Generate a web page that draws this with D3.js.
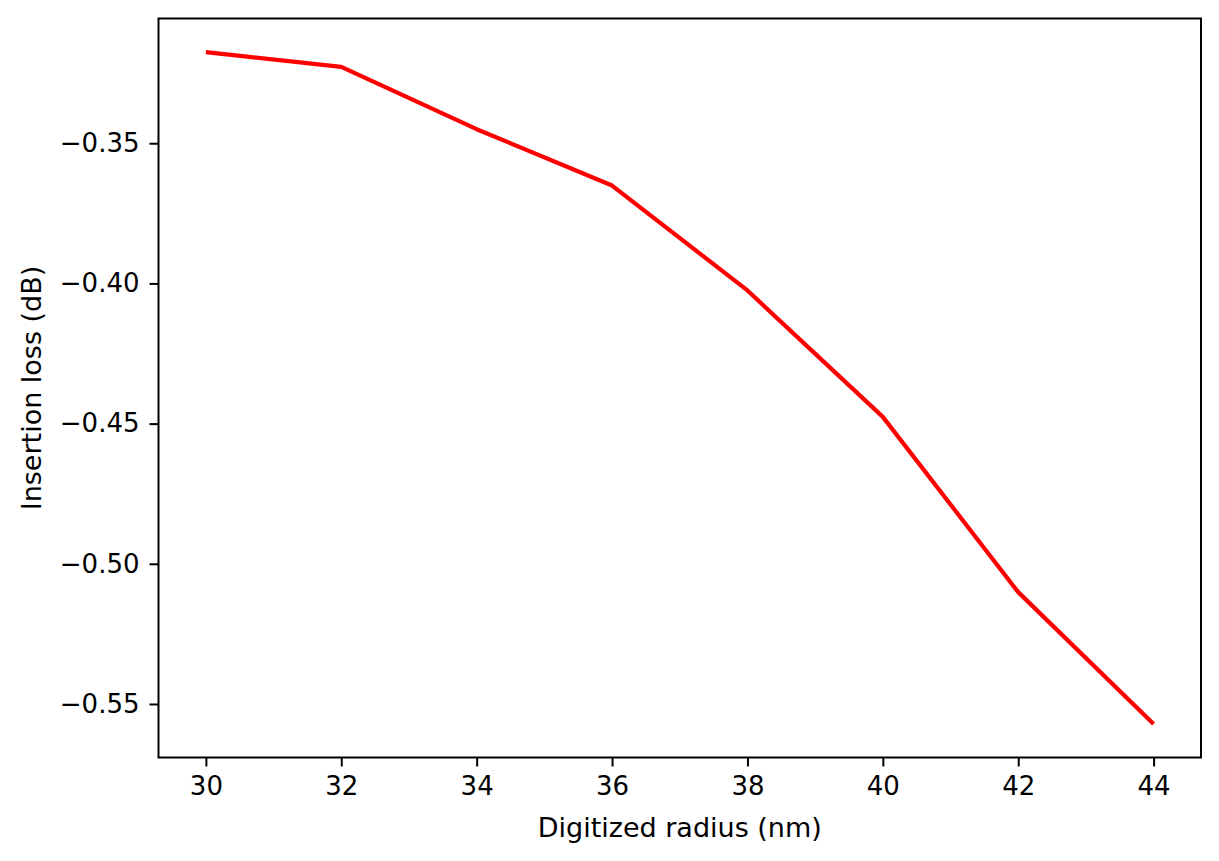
<!DOCTYPE html>
<html>
<head>
<meta charset="utf-8">
<script src="https://cdn.jsdelivr.net/npm/d3@7"></script>
<style>
  html, body { margin: 0; padding: 0; background: #fff; }
  svg { display: block; }
  text { font-family: "DejaVu Sans", sans-serif; fill: #000; }
</style>
</head>
<body>
<svg id="chart" width="1219" height="861"></svg>
<script>
// digitized radius (nm)
var radius = [30, 32, 34, 36, 38, 40, 42, 44];
// insertion loss (dB)
var loss = [-0.3175, -0.3228, -0.3450, -0.3651, -0.4025, -0.4476, -0.5101, -0.5571];
var xTicks = [30, 32, 34, 36, 38, 40, 42, 44];
var yTicks = [-0.35, -0.40, -0.45, -0.50, -0.55];

var width = 1219, height = 861;
var margin = { top: 18.5, right: 18, bottom: 103.5, left: 158.5 };
var plotW = width - margin.left - margin.right;
var plotH = height - margin.top - margin.bottom;

var svg = d3.select('#chart');
var g = svg.append('g')
    .attr('transform', 'translate(' + margin.left + ',' + margin.top + ')');

// matplotlib style 5% margins
function padded(ext) {
    var m = (ext[1] - ext[0]) * 0.05;
    return [ext[0] - m, ext[1] + m];
}

var x = d3.scaleLinear()
    .domain(padded(d3.extent(radius)))
    .range([0, plotW]);

var y = d3.scaleLinear()
    .domain(padded(d3.extent(loss)))
    .range([plotH, 0]);

var tickSize = 9;
var fontSize = 26;

var xAxis = g.append('g')
    .attr('transform', 'translate(0,' + plotH + ')')
    .call(d3.axisBottom(x).tickValues(xTicks).tickSize(tickSize).tickPadding(10).tickFormat(d3.format('d')));

var yAxis = g.append('g')
    .call(d3.axisLeft(y).tickValues(yTicks).tickSize(tickSize).tickPadding(10).tickFormat(d3.format('.2f')));

[xAxis, yAxis].forEach(function(ax) {
    ax.select('.domain').remove();
    ax.selectAll('.tick line').attr('stroke', '#000').attr('stroke-width', 2);
    ax.selectAll('.tick text')
        .style('font-family', '"DejaVu Sans", sans-serif')
        .style('font-size', fontSize + 'px')
        .attr('fill', '#000');
});

// data line
var line = d3.line()
    .x(function(d, i) { return x(radius[i]); })
    .y(function(d) { return y(d); });

g.append('path')
    .datum(loss)
    .attr('fill', 'none')
    .attr('stroke', '#ff0000')
    .attr('stroke-width', 4.2)
    .attr('stroke-linejoin', 'round')
    .attr('stroke-linecap', 'butt')
    .attr('d', line);

// frame
g.append('rect')
    .attr('x', 0)
    .attr('y', 0)
    .attr('width', plotW)
    .attr('height', plotH)
    .attr('fill', 'none')
    .attr('stroke', '#000')
    .attr('stroke-width', 2);

// axis labels
svg.append('text')
    .attr('x', margin.left + plotW / 2)
    .attr('y', 837)
    .attr('text-anchor', 'middle')
    .style('font-size', '27px')
    .text('Digitized radius (nm)');

svg.append('text')
    .attr('transform', 'translate(41,' + (margin.top + plotH / 2) + ') rotate(-90)')
    .attr('text-anchor', 'middle')
    .style('font-size', '27px')
    .text('Insertion loss (dB)');
</script>
</body>
</html>
